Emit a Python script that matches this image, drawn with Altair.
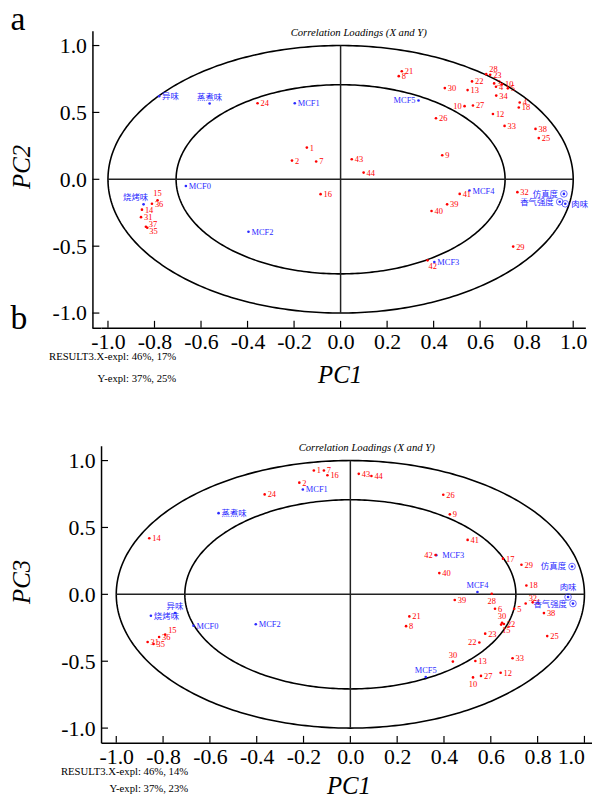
import numpy as np
import pandas as pd
import altair as alt

RED = "#ff0000"
BLUE = "#2a2aff"
SERIF = "Liberation Serif"
LABEL_FONT = "Liberation Serif, Noto Sans CJK SC"

# ---------------- data: panel a (PC1 vs PC2) ----------------
A_LABELS = ["异味", "蒸煮味", "24", "MCF1", "1", "2", "7", "MCF0", "16", "烧烤味", "15", "36", "14", "31", "37", "35", "MCF2",
            "21", "8", "28", "23", "22", "3", "4", "10", "5", "34", "30", "13", "MCF5", "10", "27", "4", "18", "12", "26",
            "33", "38", "25", "43", "44", "9", "MCF4", "41", "39", "40", "32", "29", "MCF3", "42", "仿真度", "香气强度", "肉味"]
A_PC1 = [-0.780, -0.563, -0.357, -0.197, -0.145, -0.209, -0.105, -0.665, -0.086, -0.847, -0.787, -0.811, -0.854, -0.858,
         -0.837, -0.831, -0.396, 0.263, 0.250, 0.626, 0.643, 0.565, 0.660, 0.668, 0.694, 0.719, 0.669, 0.448, 0.546, 0.335,
         0.533, 0.569, 0.770, 0.766, 0.655, 0.410, 0.705, 0.838, 0.852, 0.048, 0.099, 0.437, 0.554, 0.512, 0.458, 0.391,
         0.760, 0.742, 0.403, 0.374, 0.960, 0.942, 0.966]
A_PC2 = [0.621, 0.567, 0.569, 0.569, 0.237, 0.140, 0.133, -0.050, -0.111, -0.187, -0.157, -0.183, -0.227, -0.283,
         -0.355, -0.362, -0.392, 0.808, 0.771, 0.786, 0.781, 0.732, 0.717, 0.692, 0.710, 0.680, 0.626, 0.682, 0.667, 0.589,
         0.547, 0.552, 0.574, 0.537, 0.488, 0.456, 0.399, 0.377, 0.308, 0.150, 0.050, 0.180, -0.084, -0.109, -0.187,
         -0.237, -0.096, -0.503, -0.619, -0.606, -0.109, -0.168, -0.183]

# ---------------- data: panel b (PC1 vs PC3) ----------------
B_LABELS = ["1", "7", "16", "2", "MCF1", "24", "蒸煮味", "14", "异味", "烧烤味", "MCF0", "MCF2", "15", "36", "31", "35",
            "43", "44", "26", "9", "41", "MCF3", "42", "40", "17", "29", "仿真度", "18", "MCF4", "肉味", "28", "39",
            "香气强度", "32", "4", "6", "5", "38", "21", "8", "30", "22", "15", "23", "25", "22", "30", "13", "33",
            "MCF5", "12", "27", "10"]
B_PC1 = [-0.156, -0.113, -0.098, -0.218, -0.203, -0.366, -0.563, -0.859, -0.749, -0.852, -0.670, -0.404, -0.791,
         -0.817, -0.866, -0.841, 0.036, 0.090, 0.397, 0.425, 0.501, 0.367, 0.364, 0.380, 0.652, 0.731, 0.947, 0.752,
         0.543, 0.930, 0.604, 0.446, 0.951, 0.749, 0.779, 0.618, 0.700, 0.827, 0.252, 0.238, 0.648, 0.656, 0.644,
         0.576, 0.841, 0.551, 0.438, 0.534, 0.693, 0.322, 0.642, 0.558, 0.524]
B_PC3 = [0.926, 0.926, 0.890, 0.835, 0.784, 0.747, 0.607, 0.419, -0.140, -0.160, -0.235, -0.224, -0.301, -0.319,
         -0.356, -0.371, 0.901, 0.885, 0.745, 0.598, 0.407, 0.293, 0.294, 0.159, 0.267, 0.221, 0.208, 0.066, 0.017,
         -0.020, 0.004, -0.042, -0.069, -0.068, -0.060, -0.108, -0.108, -0.140, -0.165, -0.238, -0.213, -0.222,
         -0.226, -0.294, -0.312, -0.360, -0.503, -0.498, -0.478, -0.618, -0.586, -0.610, -0.621]

X_VARS = ["异味", "蒸煮味", "烧烤味", "MCF0", "MCF1", "MCF2", "MCF3", "MCF4", "MCF5"]
Y_VARS = ["仿真度", "香气强度", "肉味"]

XTICKS = [-1.0, -0.8, -0.6, -0.4, -0.2, 0.0, 0.2, 0.4, 0.6, 0.8, 1.0]
YTICKS = [-1.0, -0.5, 0.0, 0.5, 1.0]
RADII = [1.0, float(np.sqrt(0.5))]
TITLE = "Correlation Loadings (X and Y)"

# ---------------- styling: label placement ----------------
PRESETS = {  # dx, dy, align
    "r": (3, 0, "left"), "R": (6, 0, "left"), "l": (-3, 0, "right"), "L": (-6, 0, "right"),
    "t": (0, -7, "center"), "tt": (0, -10, "center"), "b": (0, 7, "center"),
    "tr": (3, -5, "left"), "br": (1, 6, "left"), "ru": (3, -3, "left"), "rd": (2, 3, "left"),
    "tw": (-8, -7, "center"),
}
A_SIDE = {1: "t", 9: "tw", 10: "t", 14: "ru", 15: "rd", 19: "tr", 29: "l", 30: "l", 49: "br",
          50: "L", 51: "L", 52: "R"}
B_SIDE = {8: "t", 12: "tr", 21: "R", 22: "l", 26: "L", 28: "t", 29: "tt", 30: "b", 32: "L", 33: "tr",
          40: "t", 42: "br", 45: "l", 46: "t", 49: "t", 52: "b"}


def kind_of(lab):
    if lab in Y_VARS:
        return "r"
    if lab in X_VARS:
        return "v"
    return "s"


def neg(expr):
    return "replace(format(datum.value, '%s'), '\u2212', '-')" % expr


def panel(labels, xv, yv, sides, W, H, xdom, ydom, yoff, ytitle, ytitle_x, xtitle_x, xtitle_y,
          title_x, notes, letters, anchor, last_right):
    df = pd.DataFrame({"x": xv, "y": yv, "label": labels})
    df["kind"] = [kind_of(l) for l in labels]
    df["side"] = [sides.get(i, "r") for i in range(len(labels))]
    df["ord"] = df["kind"].map({"v": 0, "r": 1, "s": 2})

    xlabel_align = ({"condition": {"test": "datum.value > 0.99", "value": "right"}, "value": "center"}
                    if last_right else "center")
    xaxis = alt.Axis(values=XTICKS, labelExpr=neg(".1f"), ticks=False, grid=False,
                     domainColor="black", domainWidth=1.5, labelFont=SERIF, labelFontSize=22,
                     labelColor="black", labelPadding=4, labelOverlap=False, labelFlush=False,
                     labelAlign=xlabel_align,
                     title="PC1", titleFont=SERIF, titleFontSize=25, titleFontStyle="italic",
                     titleFontWeight="normal", titleColor="black", titleX=xtitle_x, titleY=xtitle_y,
                     titleAlign="center", titleBaseline="middle")
    yaxis = alt.Axis(values=YTICKS, labelExpr=neg(".1f"), ticks=False, grid=False, offset=yoff,
                     domainColor="black", domainWidth=1.5, labelFont=SERIF, labelFontSize=22,
                     labelColor="black", labelPadding=6, labelOverlap=False, labelFlush=False,
                     title=ytitle, titleFont=SERIF, titleFontSize=25, titleFontStyle="italic",
                     titleFontWeight="normal", titleColor="black", titleX=ytitle_x, titleY=137,
                     titleAngle=270, titleAlign="center", titleBaseline="middle")
    X = alt.X("x:Q", scale=alt.Scale(domain=xdom, nice=False, zero=False), axis=xaxis)
    Y = alt.Y("y:Q", scale=alt.Scale(domain=ydom, nice=False, zero=False), axis=yaxis)
    color = alt.Color("kind:N", scale=alt.Scale(domain=["s", "v", "r"], range=[RED, BLUE, BLUE]), legend=None)

    t = np.linspace(0, 2 * np.pi, 361)
    ell = pd.concat([pd.DataFrame({"x": r * np.cos(t), "y": r * np.sin(t), "r": r, "i": np.arange(len(t))})
                     for r in RADII])
    layers = []
    layers.append(alt.Chart(ell).mark_line(color="black", strokeWidth=1.6).encode(
        x=X, y=Y, detail="r:N", order="i:Q"))
    cross = pd.DataFrame({"x": [-1.0, 0.0], "x2": [1.0, 0.0], "y": [0.0, -1.0], "y2": [0.0, 1.0]})
    layers.append(alt.Chart(cross).mark_rule(color="#222222", strokeWidth=1.5).encode(
        x=X, x2="x2:Q", y=Y, y2="y2:Q"))
    layers.append(alt.Chart(pd.DataFrame({"x": XTICKS})).mark_rule(color="black", strokeWidth=1.2).encode(
        x=X, y=alt.value(H), y2=alt.value(H - 7)))
    layers.append(alt.Chart(pd.DataFrame({"y": YTICKS})).mark_rule(color="black", strokeWidth=1.2).encode(
        y=Y, x=alt.value(-yoff), x2=alt.value(-yoff + 7)))
    if yoff > 0:
        layers.append(alt.Chart(alt.Data(values=[{}])).mark_rule(color="black", strokeWidth=1.5).encode(
            x=alt.value(-yoff), x2=alt.value(0.5), y=alt.value(H + 0.5)))
    resp = df[df["kind"] == "r"]
    layers.append(alt.Chart(resp).mark_point(filled=False, size=45, strokeWidth=1, color=BLUE).encode(x=X, y=Y))
    layers.append(alt.Chart(df).mark_circle(size=7, opacity=1).encode(x=X, y=Y, color=color, order="ord:Q"))
    for key, (dx, dy, align) in PRESETS.items():
        sub = df[df["side"] == key]
        if len(sub) == 0:
            continue
        layers.append(alt.Chart(sub).mark_text(dx=dx, dy=dy, align=align, baseline="middle",
                                               font=LABEL_FONT, fontSize=8.5).encode(
            x=X, y=Y, text="label:N", color=color))
    layers.append(alt.Chart(pd.DataFrame({"x": [title_x], "y": [1.095], "t": [TITLE]})).mark_text(
        font=SERIF, fontSize=10.8, fontStyle="italic", baseline="middle", align="center", color="black").encode(
        x=X, y=Y, text="t:N"))
    for txt, ny in zip(notes[0], notes[1]):
        layers.append(alt.Chart(alt.Data(values=[{}])).mark_text(
            text=txt, font=SERIF, fontSize=10.8, align="right", baseline="middle", color="black").encode(
            x=alt.value(notes[2]), y=alt.value(ny)))
    for txt, lx, ly in letters:
        layers.append(alt.Chart(alt.Data(values=[{}])).mark_text(
            text=txt, font=SERIF, fontSize=34, align="left", baseline="alphabetic", color="black").encode(
            x=alt.value(lx), y=alt.value(ly)))
    layers.append(alt.Chart(alt.Data(values=[{}])).mark_rule(strokeOpacity=0, strokeWidth=0.1).encode(
        x=alt.value(anchor[0]), y=alt.value(anchor[1]), y2=alt.value(anchor[2])))
    return alt.layer(*layers).properties(width=W, height=H)


H = 300
pa = panel(A_LABELS, A_PC1, A_PC2, A_SIDE, 489.3, H, [-1.0298, 1.0523], [-1.11, 1.11], 8.7,
           "PC2", -71.3, 241, 47, 0.078,
           (["RESULT3.X-expl: 46%, 17%", "Y-expl: 37%, 25%"], [H + 30, H + 52], 76),
           [("a", -91.5, -0.5), ("b", -91.5, 301.5)], (-94, 0, H + 62), False)
pb = panel(B_LABELS, B_PC1, B_PC3, B_SIDE, 496, H, [-1.065, 1.0323], [-1.11, 1.11], 0,
           "PC3", -80, 250, 43, 0.070,
           (["RESULT3.X-expl: 46%, 14%", "Y-expl: 37%, 23%"], [H + 30, H + 47], 88),
           [], (-94, -10, H), True)

chart = alt.concat(pa, pb, columns=1, align="none", spacing=47.3).properties(
    padding={"left": 0, "top": -9, "right": 0, "bottom": -4}
).configure_view(stroke=None)

chart.save("out.html", embed_options={"renderer": "svg", "actions": False})
